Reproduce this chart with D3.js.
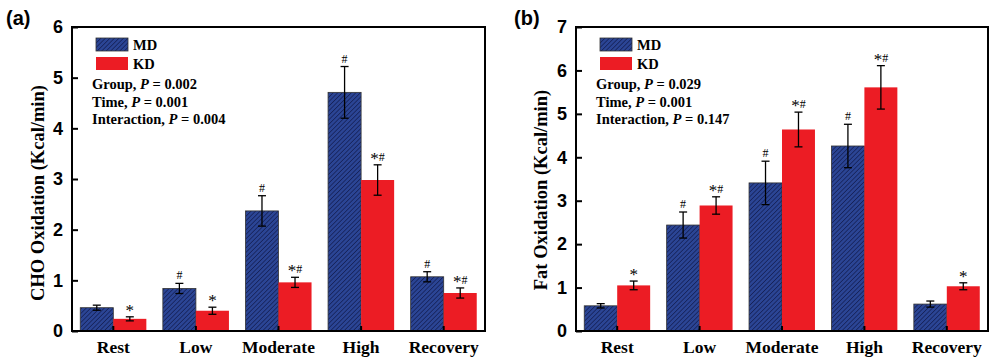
<!DOCTYPE html>
<html>
<head>
<meta charset="utf-8">
<script src="https://cdn.jsdelivr.net/npm/d3@7"></script>
<style>
  body { margin: 0; background: #fff; }
  svg { display: block; }
</style>
</head>
<body>
<div id="chart"></div>
<script>
// categories and series
const phases = ['Rest', 'Low', 'Moderate', 'High', 'Recovery'];
const groups = ['MD', 'KD'];

// (a) CHO oxidation
const choMD = [0.46, 0.84, 2.37, 4.71, 1.07];
const choMDErr = [0.05, 0.10, 0.30, 0.51, 0.10];
const choKD = [0.24, 0.40, 0.96, 2.98, 0.75];
const choKDErr = [0.04, 0.07, 0.10, 0.30, 0.10];
const choMDMark = ['', '#', '#', '#', '#'];
const choKDMark = ['*', '*', '*#', '*#', '*#'];
const choStats = ['Group, |P| = 0.002', 'Time, |P| = 0.001', 'Interaction, |P| = 0.004'];

// (b) Fat oxidation
const fatMD = [0.58, 2.44, 3.41, 4.26, 0.62];
const fatMDErr = [0.05, 0.30, 0.50, 0.50, 0.07];
const fatKD = [1.05, 2.89, 4.64, 5.61, 1.03];
const fatKDErr = [0.10, 0.20, 0.40, 0.50, 0.08];
const fatMDMark = ['', '#', '#', '#', ''];
const fatKDMark = ['*', '*#', '*#', '*#', '*'];
const fatStats = ['Group, |P| = 0.029', 'Time, |P| = 0.001', 'Interaction, |P| = 0.147'];

const width = 991, height = 358;
const blue = '#2b4595', red = '#ec1c24';

const svg = d3.select('#chart').append('svg')
  .attr('width', width).attr('height', height);

// hatch pattern for MD bars
const defs = svg.append('defs');
const pat = defs.append('pattern')
  .attr('id', 'hatch')
  .attr('patternUnits', 'userSpaceOnUse')
  .attr('width', 3.2).attr('height', 3.2)
  .attr('patternTransform', 'rotate(45)');
pat.append('rect').attr('width', 3.2).attr('height', 3.2).attr('fill', blue);
pat.append('line').attr('x1', 0).attr('y1', 0).attr('x2', 0).attr('y2', 3.2)
  .attr('stroke', '#141f55').attr('stroke-width', 1.5);

const serif = "'Liberation Serif', 'Times New Roman', serif";
const sans = "'Liberation Sans', Arial, sans-serif";

function panel(opts) {
  const { left, right, top, bottom, yMax, md, mdErr, kd, kdErr, mdMark, kdMark,
    stats, yLabel, tag, tagX, titleX, titleY } = opts;

  const x = d3.scaleBand(phases, [left, right]).paddingInner(0).paddingOuter(0);
  const y = d3.scaleLinear([0, yMax], [bottom, top]);
  const bw = x.bandwidth() * 0.4;

  const g = svg.append('g');

  const rows = phases.map((p, i) => [
    { p, grp: 'MD', v: md[i], e: mdErr[i], m: mdMark[i] },
    { p, grp: 'KD', v: kd[i], e: kdErr[i], m: kdMark[i] }
  ]).flat();
  const bx = d => x(d.p) + x.bandwidth() / 2 + (d.grp === 'MD' ? -bw : 0);

  // bars
  g.selectAll('rect.bar').data(rows).join('rect')
    .attr('class', 'bar')
    .attr('x', bx)
    .attr('y', d => y(d.v))
    .attr('width', bw)
    .attr('height', d => y(0) - y(d.v))
    .attr('fill', d => d.grp === 'MD' ? 'url(#hatch)' : red)
    .attr('stroke', d => d.grp === 'MD' ? '#333' : 'none')
    .attr('stroke-width', 0.8);

  // error bars
  const eb = g.selectAll('g.err').data(rows).join('g').attr('class', 'err')
    .attr('stroke', '#000').attr('stroke-width', 1.3);
  eb.append('line')
    .attr('x1', d => bx(d) + bw / 2).attr('x2', d => bx(d) + bw / 2)
    .attr('y1', d => y(d.v - d.e)).attr('y2', d => y(d.v + d.e));
  eb.append('line')
    .attr('x1', d => bx(d) + bw / 2 - 4).attr('x2', d => bx(d) + bw / 2 + 4)
    .attr('y1', d => y(d.v + d.e)).attr('y2', d => y(d.v + d.e));
  eb.append('line')
    .attr('x1', d => bx(d) + bw / 2 - 4).attr('x2', d => bx(d) + bw / 2 + 4)
    .attr('y1', d => y(d.v - d.e)).attr('y2', d => y(d.v - d.e));

  // significance marks: '*' larger, '#' smaller
  const mk = g.selectAll('text.mark').data(rows.filter(d => d.m)).join('text')
    .attr('class', 'mark')
    .attr('x', d => bx(d) + bw / 2)
    .attr('y', d => y(d.v + d.e) - 4)
    .attr('text-anchor', 'middle')
    .attr('font-family', serif);
  mk.each(function (d) {
    const t = d3.select(this);
    d.m.split('').forEach(c => {
      t.append('tspan')
        .attr('font-size', c === '*' ? 17 : 12)
        .attr('dy', c === '*' ? 3 : 0)
        .text(c);
    });
  });
  mk.each(function (d) {
    // shift '#' back up when it follows '*'
    const sp = d3.select(this).selectAll('tspan');
    if (sp.size() === 2) sp.filter((_, i) => i === 1).attr('dy', -3);
  });

  // frame
  g.append('rect')
    .attr('x', left).attr('y', top)
    .attr('width', right - left).attr('height', bottom - top)
    .attr('fill', 'none').attr('stroke', '#000').attr('stroke-width', 2);

  // y axis
  const yAxis = d3.axisLeft(y).ticks(yMax).tickSize(-6).tickPadding(9).tickFormat(d3.format('d'));
  const gy = g.append('g').attr('transform', `translate(${left},0)`).call(yAxis);
  gy.select('.domain').remove();
  gy.selectAll('.tick line').attr('stroke-width', 2);
  gy.selectAll('.tick text')
    .attr('font-family', sans).attr('font-weight', 'bold').attr('font-size', 18)
    .attr('fill', '#000');

  // x axis
  const xAxis = d3.axisBottom(x).tickSize(-5).tickPadding(10);
  const gx = g.append('g').attr('transform', `translate(0,${bottom})`).call(xAxis);
  gx.select('.domain').remove();
  gx.selectAll('.tick line').attr('stroke-width', 2);
  gx.selectAll('.tick text')
    .attr('font-family', serif).attr('font-weight', 'bold').attr('font-size', 17.5)
    .attr('fill', '#000');

  // y title
  g.append('text')
    .attr('transform', `translate(${titleX},${titleY}) rotate(-90)`)
    .attr('text-anchor', 'middle')
    .attr('font-family', serif).attr('font-weight', 'bold').attr('font-size', 18.5)
    .text(yLabel);

  // panel tag
  g.append('text')
    .attr('x', tagX).attr('y', 25)
    .attr('font-family', sans).attr('font-weight', 'bold').attr('font-size', 20)
    .text(tag);

  // legend
  const lx = left + 24;
  const leg = g.selectAll('g.leg').data(groups).join('g').attr('class', 'leg')
    .attr('transform', (d, i) => `translate(${lx},${38 + i * 19})`);
  leg.append('rect')
    .attr('width', 32).attr('height', 13)
    .attr('fill', d => d === 'MD' ? 'url(#hatch)' : red)
    .attr('stroke', d => d === 'MD' ? '#333' : 'none').attr('stroke-width', 0.8);
  leg.append('text')
    .attr('x', 37).attr('y', 12)
    .attr('font-family', serif).attr('font-weight', 'bold').attr('font-size', 14.5)
    .text(d => d);

  // stats text
  const st = g.selectAll('text.stat').data(stats).join('text').attr('class', 'stat')
    .attr('x', left + 20)
    .attr('y', (d, i) => 89 + i * 17.5)
    .attr('font-family', serif).attr('font-weight', 'bold').attr('font-size', 14.5);
  st.each(function (d) {
    const t = d3.select(this);
    d.split('|').forEach((s, k) => {
      t.append('tspan').attr('font-style', k === 1 ? 'italic' : 'normal').text(s);
    });
  });
}

panel({
  left: 72, right: 485, top: 27, bottom: 331, yMax: 6,
  md: choMD, mdErr: choMDErr, kd: choKD, kdErr: choKDErr,
  mdMark: choMDMark, kdMark: choKDMark, stats: choStats,
  yLabel: 'CHO Oxidation (Kcal/min)', tag: '(a)', tagX: 6, titleX: 44, titleY: 193
});

panel({
  left: 576, right: 988, top: 27, bottom: 331, yMax: 7,
  md: fatMD, mdErr: fatMDErr, kd: fatKD, kdErr: fatKDErr,
  mdMark: fatMDMark, kdMark: fatKDMark, stats: fatStats,
  yLabel: 'Fat Oxidation (Kcal/min)', tag: '(b)', tagX: 514, titleX: 547, titleY: 190
});
</script>
</body>
</html>
